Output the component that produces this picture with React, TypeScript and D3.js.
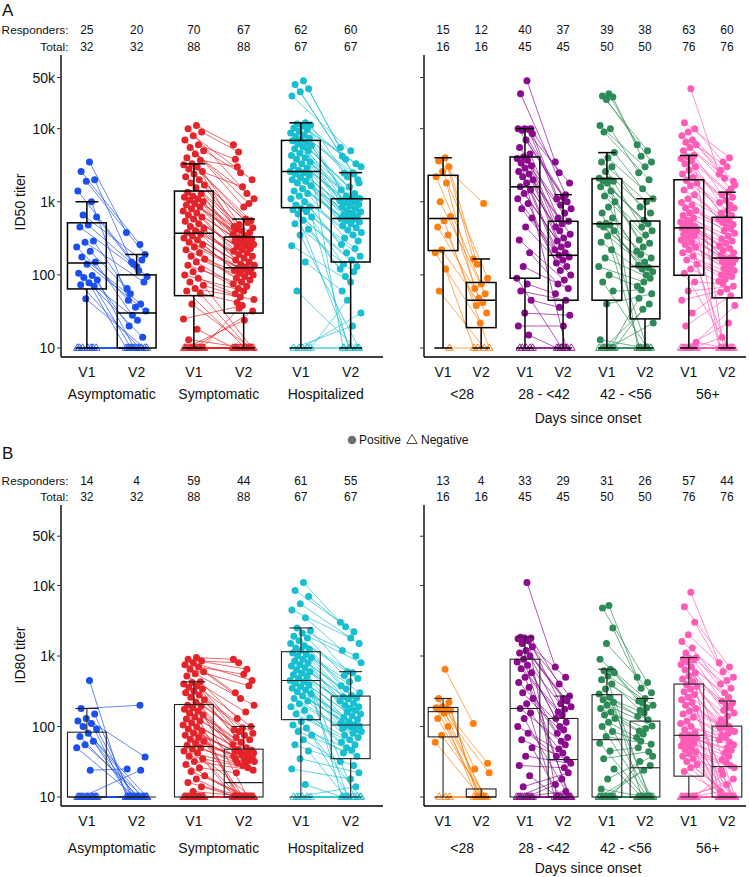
import React from "react";
import * as d3 from "d3";

const FONT = "'Liberation Sans', Arial, Helvetica, sans-serif";
const GROUP_STEP = 2.15;

const severityLabels = ["Asymptomatic", "Symptomatic", "Hospitalized"];
const onsetLabels = ["<28", "28 - <42", "42 - <56", "56+"];
const visitLabels = ["V1", "V2"];
const severityColors = ["#1b4ff0", "#e3242b", "#17bfd0"];
const onsetColors = ["#ff7f0e", "#8b0a8e", "#2e8b57", "#ff5cb8"];
const yTickValues = [10, 100, 1000, 10000, 50000];
const yTickLabels = ["10", "100", "1k", "10k", "50k"];

// ---------- Panel A : ID50 ----------
const A_asym_v1 = [3500, 2600, 2000, 1900, 1400, 1000, 660, 620, 480, 450, 290, 280, 240, 210, 175, 150, 140, 105, 98, 92, 85, 78, 73, 70, 47, 10, 10, 10, 10, 10, 10, 10];
const A_asym_v2 = [380, 260, 150, 190, 130, 45, 160, 140, 95, 115, 55, 80, 36, 65, 40, 28, 32, 24, 20, 14, 10, 10, 10, 10, 10, 10, 10, 10, 10, 10, 10, 10];

const A_sym_v1 = [11000, 10000, 9000, 8000, 7000, 6000, 5500, 5000, 4500, 4000, 3700, 3300, 3200, 3000, 2800, 2600, 2400, 2200, 2000, 1800, 1700, 1550, 1350, 1300, 1200, 1150, 1100, 1050, 1000, 950, 900, 850, 800, 750, 700, 660, 620, 580, 540, 500, 460, 430, 400, 380, 360, 340, 320, 300, 280, 260, 240, 220, 200, 180, 165, 150, 135, 120, 110, 100, 90, 80, 72, 65, 60, 56, 40, 25, 18, 13,
  10, 10, 10, 10, 10, 10, 10, 10, 10, 10, 10, 10, 10, 10, 10, 10, 10, 10];
const A_sym_v2 = [6000, 1300, 4800, 2000, 850, 3800, 950, 2500, 1100, 580, 3000, 550, 1600, 460, 520, 490, 440, 345, 420, 380, 400, 360, 325, 320, 310, 300, 290, 280, 270, 260, 250, 240, 230, 220, 210, 200, 190, 180, 170, 160, 150, 140, 135, 128, 122, 120, 118, 115, 110, 105, 100, 95, 90, 85, 80, 75, 70, 65, 10, 60, 55, 10, 50, 46, 10, 42, 10, 38, 10, 10,
  35, 32, 24, 10, 10, 10, 10, 10, 10, 10, 10, 10, 10, 10, 10, 10, 10, 10];

const A_hosp_v1 = [45000, 40000, 35000, 32000, 28000, 12000, 11600, 11200, 10800, 10200, 9700, 9200, 8700, 8200, 7800, 7400, 7000, 6800, 6500, 6200, 5900, 5600, 5300, 5000, 4600, 4300, 4000, 3800, 3500, 3300, 3100, 2900, 2700, 2600, 2500, 2400, 2300, 2150, 2000, 1900, 1800, 1650, 1500, 1400, 1300, 1200, 1100, 1000, 900, 850, 810, 780, 730, 680, 620, 560, 500, 420, 350, 250, 150, 60, 10, 10, 10, 10, 10];
const A_hosp_v2 = [5500, 2400, 3800, 1800, 5000, 4200, 3300, 2200, 3000, 2500, 2450, 2000, 1600, 1450, 1300, 1200, 1110, 1090, 10, 1080, 1060, 1030, 1000, 960, 920, 880, 840, 800, 760, 730, 700, 670, 640, 610, 590, 575, 555, 530, 500, 470, 440, 410, 380, 350, 320, 290, 10, 260, 230, 200, 180, 160, 140, 130, 10, 120, 110, 95, 10, 80, 60, 10, 45, 30, 20, 10, 10];

const A_lt28_v1 = [4000, 3600, 3000, 2600, 2200, 1800, 1000, 630, 550, 450, 350, 220, 200, 120, 60, 10];
const A_lt28_v2 = [165, 950, 140, 90, 75, 65, 55, 48, 10, 42, 38, 30, 22, 10, 10, 10];

const A_d28_v1 = [45000, 30000, 10000, 10000, 10000, 9800, 9500, 8500, 7000, 5500, 4500, 4100, 3900, 3700, 3400, 3100, 2900, 2600, 2400, 2200, 2000, 1800, 1600, 1450, 1300, 1100, 950, 800, 600, 450, 300, 200, 130, 90, 75, 60, 45, 30, 20, 15, 10, 10, 10, 10, 10];
const A_d28_v2 = [3500, 1250, 2500, 1800, 1150, 1100, 1000, 900, 800, 700, 600, 540, 500, 450, 10, 400, 360, 320, 290, 260, 240, 220, 200, 185, 175, 160, 145, 130, 115, 100, 85, 75, 65, 10, 55, 45, 36, 28, 20, 10, 10, 10, 10, 10, 10];

const A_d42_v1 = [30000, 28000, 27000, 25000, 11000, 10000, 9000, 4700, 4000, 3500, 3000, 2600, 2100, 1980, 1950, 1900, 1800, 1600, 1400, 1200, 1000, 850, 700, 600, 510, 490, 480, 450, 400, 340, 280, 220, 170, 130, 100, 80, 60, 40, 13, 10, 10, 10, 10, 10, 10, 10, 10, 10, 10, 10];
const A_d42_v2 = [6000, 5000, 4200, 3500, 3000, 2500, 2000, 1500, 1100, 1000, 850, 700, 560, 10, 500, 450, 400, 350, 300, 270, 240, 210, 10, 190, 170, 150, 135, 125, 120, 110, 100, 10, 90, 80, 70, 10, 62, 55, 10, 48, 40, 34, 22, 10, 10, 10, 10, 10, 10, 10];

const A_d56_v1 = [35000, 12000, 10000, 9000, 8000, 7000, 6500, 6000, 5500, 5000, 4300, 4100, 3900, 3600, 3300, 3000, 2700, 2400, 2150, 1950, 1800, 1650, 1450, 1250, 1100, 980, 900, 820, 760, 700, 650, 600, 560, 530, 500, 480, 460, 445, 435, 430, 415, 400, 380, 360, 340, 320, 300, 280, 260, 240, 220, 200, 180, 160, 140, 120, 105, 80, 60, 45, 30, 20, 12,
  10, 10, 10, 10, 10, 10, 10, 10, 10, 10, 10, 10, 10];
const A_d56_v2 = [2400, 4000, 3500, 1900, 3000, 2700, 1500, 2100, 1700, 1350, 1250, 1150, 1050, 980, 900, 10, 820, 760, 700, 650, 600, 580, 550, 520, 490, 460, 10, 430, 400, 370, 340, 310, 290, 270, 250, 230, 215, 200, 10, 185, 173, 167, 163, 158, 152, 145, 138, 10, 130, 122, 115, 108, 100, 95, 88, 82, 10, 76, 70, 64, 58, 52, 10,
  38, 22, 14, 10, 10, 10, 10, 10, 10, 10, 10, 10, 10];

// ---------- Panel B : ID80 ----------
const B_asym_v1 = [450, 180, 150, 130, 120, 110, 100, 92, 80, 72, 62, 55, 50, 24, 10, 10, 10, 10, 10, 10, 10, 10, 10, 10, 10, 10, 10, 10, 10, 10, 10, 10];
const B_asym_v2 = [10, 200, 10, 37, 10, 10, 10, 10, 10, 10, 10, 10, 10, 25, 24, 10, 10, 10, 10, 10, 10, 10, 10, 10, 10, 10, 10, 10, 10, 10, 10, 10];

const B_sym_v1 = [950, 900, 850, 800, 750, 700, 650, 600, 560, 520, 430, 420, 400, 380, 360, 340, 320, 300, 280, 260, 240, 220, 200, 195, 185, 175, 165, 155, 145, 136, 128, 120, 112, 105, 98, 92, 86, 80, 75, 70, 66, 62, 58, 54, 50, 48, 45, 42, 38, 35, 32, 29, 26, 23, 20, 18, 16, 14, 12,
  10, 10, 10, 10, 10, 10, 10, 10, 10, 10, 10, 10, 10, 10, 10, 10, 10, 10, 10, 10, 10, 10, 10, 10, 10, 10, 10, 10, 10];
const B_sym_v2 = [900, 650, 800, 450, 550, 300, 380, 250, 200, 160, 130, 100, 95, 90, 10, 85, 80, 75, 70, 65, 60, 55, 50, 47, 46, 10, 45, 44, 43, 42, 41, 10, 40, 39, 38, 37, 10, 36, 35, 34, 33, 10, 32, 31, 30, 10, 28, 10, 26, 10, 24, 10, 22, 10, 10, 10, 10, 10, 10,
  10, 10, 10, 10, 10, 10, 10, 10, 10, 10, 10, 10, 10, 10, 10, 10, 10, 10, 10, 10, 10, 10, 10, 10, 10, 10, 10, 10, 10];

const B_hosp_v1 = [11000, 8500, 7000, 5500, 4500, 3500, 2500, 2300, 2100, 1900, 1800, 1650, 1500, 1400, 1300, 1250, 1200, 1100, 1050, 1000, 950, 900, 850, 800, 760, 720, 680, 640, 600, 570, 540, 510, 480, 450, 430, 410, 390, 370, 350, 330, 310, 290, 270, 250, 230, 210, 190, 170, 150, 132, 118, 105, 95, 85, 75, 65, 55, 45, 35, 25, 15, 10, 10, 10, 10, 10, 10];
const B_hosp_v2 = [3000, 2200, 2600, 1500, 1800, 1200, 1000, 600, 800, 580, 530, 480, 430, 380, 10, 340, 300, 275, 265, 255, 245, 230, 215, 200, 190, 180, 10, 170, 160, 150, 142, 134, 126, 118, 110, 105, 103, 101, 98, 94, 90, 10, 85, 80, 75, 70, 65, 60, 55, 50, 10, 46, 42, 38, 10, 32, 28, 10, 22, 18, 10, 14, 10, 10, 10, 10, 10];

const B_lt28_v1 = [650, 250, 220, 190, 185, 180, 175, 170, 155, 130, 100, 75, 60, 10, 10, 10];
const B_lt28_v2 = [110, 10, 10, 30, 10, 25, 10, 10, 22, 10, 10, 10, 10, 10, 10, 10];

const B_d28_v1 = [11000, 1850, 1800, 1800, 1750, 1650, 1500, 1350, 1200, 1100, 1000, 900, 820, 740, 660, 580, 500, 420, 360, 300, 250, 210, 180, 155, 130, 100, 80, 65, 50, 38, 28, 20, 14, 10, 10, 10, 10, 10, 10, 10, 10, 10, 10, 10, 10];
const B_d28_v2 = [700, 500, 400, 270, 250, 10, 230, 210, 190, 175, 160, 10, 145, 130, 115, 100, 10, 90, 80, 70, 62, 10, 55, 48, 10, 42, 38, 34, 10, 30, 26, 10, 22, 18, 15, 12, 10, 10, 10, 10, 10, 10, 10, 10, 10];

const B_d42_v1 = [5200, 4800, 2500, 1500, 900, 650, 620, 580, 520, 460, 400, 340, 290, 260, 240, 220, 200, 180, 160, 145, 130, 115, 100, 85, 72, 58, 45, 35, 25, 18, 13, 10, 10, 10, 10, 10, 10, 10, 10, 10, 10, 10, 10, 10, 10, 10, 10, 10, 10, 10];
const B_d42_v2 = [500, 420, 350, 300, 250, 230, 10, 215, 200, 185, 170, 10, 155, 140, 125, 10, 102, 94, 86, 10, 78, 70, 10, 62, 56, 10, 50, 44, 10, 38, 10, 32, 28, 24, 10, 10, 10, 10, 10, 10, 10, 10, 10, 10, 10, 10, 10, 10, 10, 10];

const B_d56_v1 = [8000, 5000, 3000, 2000, 1600, 1300, 1100, 950, 920, 900, 880, 820, 760, 700, 640, 580, 520, 470, 430, 390, 370, 340, 310, 285, 260, 240, 220, 200, 180, 165, 150, 135, 120, 110, 100, 90, 82, 76, 74, 72, 70, 68, 65, 62, 59, 56, 53, 50, 47, 44, 41, 38, 35, 32, 29, 26, 23,
  10, 10, 10, 10, 10, 10, 10, 10, 10, 10, 10, 10, 10, 10, 10, 10, 10, 10, 10];
const B_d56_v2 = [800, 700, 600, 500, 450, 400, 350, 300, 10, 260, 230, 215, 200, 10, 185, 170, 155, 140, 125, 10, 115, 105, 100, 99, 10, 97, 94, 90, 10, 85, 80, 75, 10, 70, 65, 60, 10, 55, 50, 10, 46, 42, 10, 38, 34, 10, 31, 10, 28, 10, 26, 10, 24, 10, 10, 10, 10,
  21, 18, 15, 12, 10, 10, 10, 10, 10, 10, 10, 10, 10, 10, 10, 10, 10, 10, 10];

// counts table
const A_sev_resp = [25, 20, 70, 67, 62, 60];
const A_sev_total = [32, 32, 88, 88, 67, 67];
const A_ons_resp = [15, 12, 40, 37, 39, 38, 63, 60];
const A_ons_total = [16, 16, 45, 45, 50, 50, 76, 76];
const B_sev_resp = [14, 4, 59, 44, 61, 55];
const B_sev_total = [32, 32, 88, 88, 67, 67];
const B_ons_resp = [13, 4, 33, 29, 31, 26, 57, 44];
const B_ons_total = [16, 16, 45, 45, 50, 50, 76, 76];

type Group = { label: string; color: string; v1: number[]; v2: number[] };

function jitter(i: number, k: number) {
  const f = ((i + 1) * 0.6180339887 + k * 0.4142) % 1;
  return (f - 0.5) * 0.44;
}

function boxStats(vals: number[]) {
  const s = vals.slice().sort(d3.ascending);
  const q1 = d3.quantileSorted(s, 0.25) as number;
  const med = d3.quantileSorted(s, 0.5) as number;
  const q3 = d3.quantileSorted(s, 0.75) as number;
  const iqr = q3 - q1;
  const hi = d3.max(s.filter((v) => v <= q3 + 1.5 * iqr)) as number;
  const lo = d3.min(s.filter((v) => v >= q1 - 1.5 * iqr)) as number;
  return { q1, med, q3, hi, lo };
}

type PanelProps = {
  groups: Group[];
  xRange: [number, number];
  domain: [number, number];
  y: d3.ScaleLogarithmic<number, number>;
  axisTop: number;
  axisY: number;
  showYLabels: boolean;
  resp: number[];
  total: number[];
  respY: number;
  totalY: number;
  showRowLabels: boolean;
  vLabelY: number;
  gLabelY: number;
  boxColor: string;
  boxWidth: number;
};

function Panel(p: PanelProps) {
  const x = d3.scaleLinear().domain(p.domain).range(p.xRange);
  const unit = x(1) - x(0);
  const pos = (g: number, v: number) => x(g * GROUP_STEP + v);
  const boxHalf = 0.39 * unit;
  const capHalf = 0.23 * unit;
  const left = p.xRange[0];
  const els: React.ReactNode[] = [];

  // lines
  p.groups.forEach((g, gi) => {
    g.v1.forEach((a, i) => {
      const b = g.v2[i];
      els.push(
        <line key={`l${gi}-${i}`} x1={pos(gi, 0) + jitter(i, 0) * unit} y1={p.y(a)}
          x2={pos(gi, 1) + jitter(i, 1) * unit} y2={p.y(b)} stroke={g.color} strokeWidth={0.8} strokeOpacity={0.85} />
      );
    });
  });
  // points
  p.groups.forEach((g, gi) => {
    [g.v1, g.v2].forEach((arr, vi) => {
      arr.forEach((val, i) => {
        const cx = pos(gi, vi) + jitter(i, vi) * unit;
        const cy = p.y(val);
        if (val <= 10) {
          const s = 4.2;
          els.push(
            <path key={`p${gi}-${vi}-${i}`} d={`M${cx},${cy - s}L${cx - s * 0.9},${cy + s * 0.55}L${cx + s * 0.9},${cy + s * 0.55}Z`}
              fill="none" stroke={g.color} strokeWidth={0.9} />
          );
        } else {
          els.push(<circle key={`p${gi}-${vi}-${i}`} cx={cx} cy={cy} r={3.5} fill={g.color} />);
        }
      });
    });
  });
  // boxes
  p.groups.forEach((g, gi) => {
    [g.v1, g.v2].forEach((arr, vi) => {
      const st = boxStats(arr);
      const cx = pos(gi, vi);
      const k = `b${gi}-${vi}`;
      els.push(
        <g key={k} stroke={p.boxColor} strokeWidth={p.boxWidth} fill="none">
          <line x1={cx} x2={cx} y1={p.y(st.q3)} y2={p.y(st.hi)} />
          <line x1={cx} x2={cx} y1={p.y(st.q1)} y2={p.y(st.lo)} />
          <line x1={cx - capHalf} x2={cx + capHalf} y1={p.y(st.hi)} y2={p.y(st.hi)} />
          <line x1={cx - capHalf} x2={cx + capHalf} y1={p.y(st.lo)} y2={p.y(st.lo)} />
          <rect x={cx - boxHalf} width={boxHalf * 2} y={p.y(st.q3)} height={Math.max(0, p.y(st.q1) - p.y(st.q3))} />
          <line x1={cx - boxHalf} x2={cx + boxHalf} y1={p.y(st.med)} y2={p.y(st.med)} />
        </g>
      );
    });
  });

  return (
    <g fontFamily={FONT}>
      {els}
      {/* axes */}
      <line x1={left} x2={left} y1={p.axisTop} y2={p.axisY} stroke="#000" strokeWidth={1.4} />
      <line x1={left} x2={p.xRange[1]} y1={p.axisY} y2={p.axisY} stroke="#000" strokeWidth={1.4} />
      {yTickValues.map((t, i) => (
        <g key={`t${i}`}>
          <line x1={left - 4} x2={left} y1={p.y(t)} y2={p.y(t)} stroke="#333" strokeWidth={1} />
          {p.showYLabels && (
            <text x={left - 6} y={p.y(t)} textAnchor="end" dominantBaseline="central" fontSize={14} fill="#111">
              {yTickLabels[i]}
            </text>
          )}
        </g>
      ))}
      {/* V labels and group labels */}
      {p.groups.map((g, gi) => (
        <g key={`gl${gi}`}>
          {visitLabels.map((v, vi) => (
            <text key={v} x={pos(gi, vi)} y={p.vLabelY} textAnchor="middle" dominantBaseline="central" fontSize={14} fill="#111">{v}</text>
          ))}
          <text x={(pos(gi, 0) + pos(gi, 1)) / 2} y={p.gLabelY} textAnchor="middle" dominantBaseline="central" fontSize={14} fill="#111">{g.label}</text>
        </g>
      ))}
      {/* counts */}
      {p.showRowLabels && (
        <g>
          <text x={68.5} y={p.respY} textAnchor="end" dominantBaseline="central" fontSize={11.8} fill="#111">Responders:</text>
          <text x={68.5} y={p.totalY} textAnchor="end" dominantBaseline="central" fontSize={11.8} fill="#111">Total:</text>
        </g>
      )}
      {p.groups.map((g, gi) =>
        visitLabels.map((v, vi) => (
          <g key={`c${gi}-${vi}`}>
            <text x={pos(gi, vi)} y={p.respY} textAnchor="middle" dominantBaseline="central" fontSize={12} fill="#111">{p.resp[gi * 2 + vi]}</text>
            <text x={pos(gi, vi)} y={p.totalY} textAnchor="middle" dominantBaseline="central" fontSize={12} fill="#111">{p.total[gi * 2 + vi]}</text>
          </g>
        ))
      )}
    </g>
  );
}

export default function App() {
  const yA = d3.scaleLog().domain([10, 100000]).range([348, 55.5]);
  const yB = d3.scaleLog().domain([10, 100000]).range([797, 515]);

  const sevA: Group[] = [
    { label: severityLabels[0], color: severityColors[0], v1: A_asym_v1, v2: A_asym_v2 },
    { label: severityLabels[1], color: severityColors[1], v1: A_sym_v1, v2: A_sym_v2 },
    { label: severityLabels[2], color: severityColors[2], v1: A_hosp_v1, v2: A_hosp_v2 },
  ];
  const onsA: Group[] = [
    { label: onsetLabels[0], color: onsetColors[0], v1: A_lt28_v1, v2: A_lt28_v2 },
    { label: onsetLabels[1], color: onsetColors[1], v1: A_d28_v1, v2: A_d28_v2 },
    { label: onsetLabels[2], color: onsetColors[2], v1: A_d42_v1, v2: A_d42_v2 },
    { label: onsetLabels[3], color: onsetColors[3], v1: A_d56_v1, v2: A_d56_v2 },
  ];
  const sevB: Group[] = [
    { label: severityLabels[0], color: severityColors[0], v1: B_asym_v1, v2: B_asym_v2 },
    { label: severityLabels[1], color: severityColors[1], v1: B_sym_v1, v2: B_sym_v2 },
    { label: severityLabels[2], color: severityColors[2], v1: B_hosp_v1, v2: B_hosp_v2 },
  ];
  const onsB: Group[] = [
    { label: onsetLabels[0], color: onsetColors[0], v1: B_lt28_v1, v2: B_lt28_v2 },
    { label: onsetLabels[1], color: onsetColors[1], v1: B_d28_v1, v2: B_d28_v2 },
    { label: onsetLabels[2], color: onsetColors[2], v1: B_d42_v1, v2: B_d42_v2 },
    { label: onsetLabels[3], color: onsetColors[3], v1: B_d56_v1, v2: B_d56_v2 },
  ];

  const leftRange: [number, number] = [61, 383];
  const leftDomain: [number, number] = [-0.52, 5.95];
  const rightRange: [number, number] = [424, 746];
  const rightDomain: [number, number] = [-0.5, 7.95];

  return (
    <svg width={749} height={877} style={{ position: "absolute", left: 0, top: 0, background: "#fff" }} fontFamily={FONT}>
      <rect width={749} height={877} fill="#fff" />
      <text x={2} y={10} dominantBaseline="central" fontSize={17} fill="#111">A</text>
      <text x={2} y={453} dominantBaseline="central" fontSize={17} fill="#111">B</text>

      <Panel groups={sevA} xRange={leftRange} domain={leftDomain} y={yA} axisTop={55} axisY={357} showYLabels
        resp={A_sev_resp} total={A_sev_total} respY={30} totalY={47} showRowLabels vLabelY={372} gLabelY={394}
        boxColor="#000" boxWidth={1.5} />
      <Panel groups={onsA} xRange={rightRange} domain={rightDomain} y={yA} axisTop={55} axisY={357} showYLabels={false}
        resp={A_ons_resp} total={A_ons_total} respY={30} totalY={47} showRowLabels={false} vLabelY={372} gLabelY={394}
        boxColor="#000" boxWidth={1.5} />
      <text x={588} y={418} textAnchor="middle" dominantBaseline="central" fontSize={14} fill="#111">Days since onset</text>
      <text transform="translate(20,202) rotate(-90)" textAnchor="middle" dominantBaseline="central" fontSize={14} fill="#111">ID50 titer</text>

      {/* legend */}
      <circle cx={352} cy={440} r={4.3} fill="#6e6e6e" />
      <text x={359} y={440} dominantBaseline="central" fontSize={12} fill="#111">Positive</text>
      <path d="M412,434.5L406.8,443.5L417.2,443.5Z" fill="none" stroke="#444" strokeWidth={1} />
      <text x={421} y={440} dominantBaseline="central" fontSize={12} fill="#111">Negative</text>

      <Panel groups={sevB} xRange={leftRange} domain={leftDomain} y={yB} axisTop={505} axisY={806} showYLabels
        resp={B_sev_resp} total={B_sev_total} respY={481} totalY={497} showRowLabels vLabelY={821} gLabelY={848}
        boxColor="#222" boxWidth={1.1} />
      <Panel groups={onsB} xRange={rightRange} domain={rightDomain} y={yB} axisTop={505} axisY={806} showYLabels={false}
        resp={B_ons_resp} total={B_ons_total} respY={481} totalY={497} showRowLabels={false} vLabelY={821} gLabelY={848}
        boxColor="#222" boxWidth={1.1} />
      <text x={588} y={868} textAnchor="middle" dominantBaseline="central" fontSize={14} fill="#111">Days since onset</text>
      <text transform="translate(20,655) rotate(-90)" textAnchor="middle" dominantBaseline="central" fontSize={14} fill="#111">ID80 titer</text>
    </svg>
  );
}
